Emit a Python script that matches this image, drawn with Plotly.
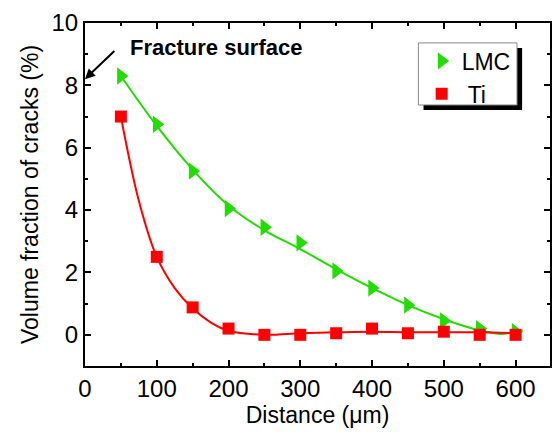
import plotly.graph_objects as go

# measured data points
distance = [50, 100, 150, 200, 250, 300, 350, 400, 450, 500, 550, 600]
lmc = [8.3, 6.75, 5.25, 4.05, 3.45, 2.95, 2.05, 1.5, 0.95, 0.45, 0.2, 0.1]
ti = [7.0, 2.5, 0.88, 0.2, 0.0, 0.0, 0.05, 0.2, 0.05, 0.1, 0.0, 0.0]

# fitted curves
lmc_fit_x = [50, 100, 150, 200, 250, 300, 350, 400, 450, 500, 550, 580, 610]
lmc_fit_y = [8.3, 6.7, 5.3, 4.15, 3.35, 2.75, 2.1, 1.5, 0.95, 0.5, 0.14, 0.03, 0.15]
ti_fit_x = [50, 75, 100, 125, 150, 175, 200, 250, 300, 350, 400, 450, 500, 550, 600]
ti_fit_y = [7.0, 4.3, 2.5, 1.5, 0.85, 0.4, 0.13, 0.0, 0.05, 0.08, 0.1, 0.08, 0.08, 0.08, 0.05]

green = "#22dd00"
red = "#ff0000"

fig = go.Figure()
fig.add_trace(go.Scatter(x=lmc_fit_x, y=lmc_fit_y, mode="lines", line=dict(color=green, width=2, shape="spline"),
                         showlegend=False, hoverinfo="skip"))
fig.add_trace(go.Scatter(x=ti_fit_x, y=ti_fit_y, mode="lines", line=dict(color=red, width=2, shape="spline"),
                         showlegend=False, hoverinfo="skip"))
fig.add_trace(go.Scatter(x=distance, y=lmc, mode="markers", name="LMC",
                         marker=dict(symbol="triangle-right", size=15, color=green)))
fig.add_trace(go.Scatter(x=distance, y=ti, mode="markers", name=" Ti",
                         marker=dict(symbol="square", size=12, color=red)))

font = "Liberation Sans, Arial, sans-serif"
axis_common = dict(showline=True, linecolor="black", linewidth=2, mirror="allticks", ticks="inside",
                   ticklen=6, tickwidth=1.5, tickcolor="black", showgrid=False, zeroline=False,
                   tickfont=dict(family=font, size=24, color="black"))
fig.update_xaxes(range=[0, 648], tickvals=[0, 100, 200, 300, 400, 500, 600],
                 minor=dict(ticks="inside", ticklen=3, tickwidth=1.5, tickcolor="black", dtick=50, tick0=0),
                 title=dict(text="Distance (μm)", font=dict(family=font, size=23, color="black"), standoff=4),
                 **axis_common)
fig.update_yaxes(range=[-1, 10], tickvals=[0, 2, 4, 6, 8, 10],
                 minor=dict(ticks="inside", ticklen=3, tickwidth=1.5, tickcolor="black", dtick=1, tick0=0),
                 title=dict(text="Volume fraction of cracks (%)", font=dict(family=font, size=23, color="black"), standoff=6),
                 **axis_common)

fig.add_annotation(x=0, y=8.2, ax=43, ay=9.15, xref="x", yref="y", axref="x", ayref="y",
                   showarrow=True, arrowhead=2, arrowsize=1, arrowwidth=2, arrowcolor="black", text="")
fig.add_annotation(x=60, y=9.2, xref="x", yref="y", text="<b>Fracture surface</b>", showarrow=False,
                   xanchor="left", yanchor="middle", font=dict(family=font, size=22, color="black"))

# legend box with shadow
fig.add_shape(type="rect", xref="paper", yref="paper", x0=0.728, x1=0.940, y0=0.746, y1=0.927,
              fillcolor="black", line=dict(width=0))
fig.add_shape(type="rect", xref="paper", yref="paper", x0=0.717, x1=0.929, y0=0.761, y1=0.942,
              fillcolor="white", line=dict(width=1, color="#888888"))

fig.update_layout(
    width=553, height=433,
    margin=dict(l=85, r=1, t=23, b=67),
    plot_bgcolor="white", paper_bgcolor="white",
    legend=dict(x=0.724, y=0.952, xanchor="left", yanchor="top", bgcolor="rgba(0,0,0,0)",
                borderwidth=0, font=dict(family=font, size=23, color="black"), itemwidth=30,
                tracegroupgap=0),
    showlegend=True,
)
fig.write_html("out.html")
